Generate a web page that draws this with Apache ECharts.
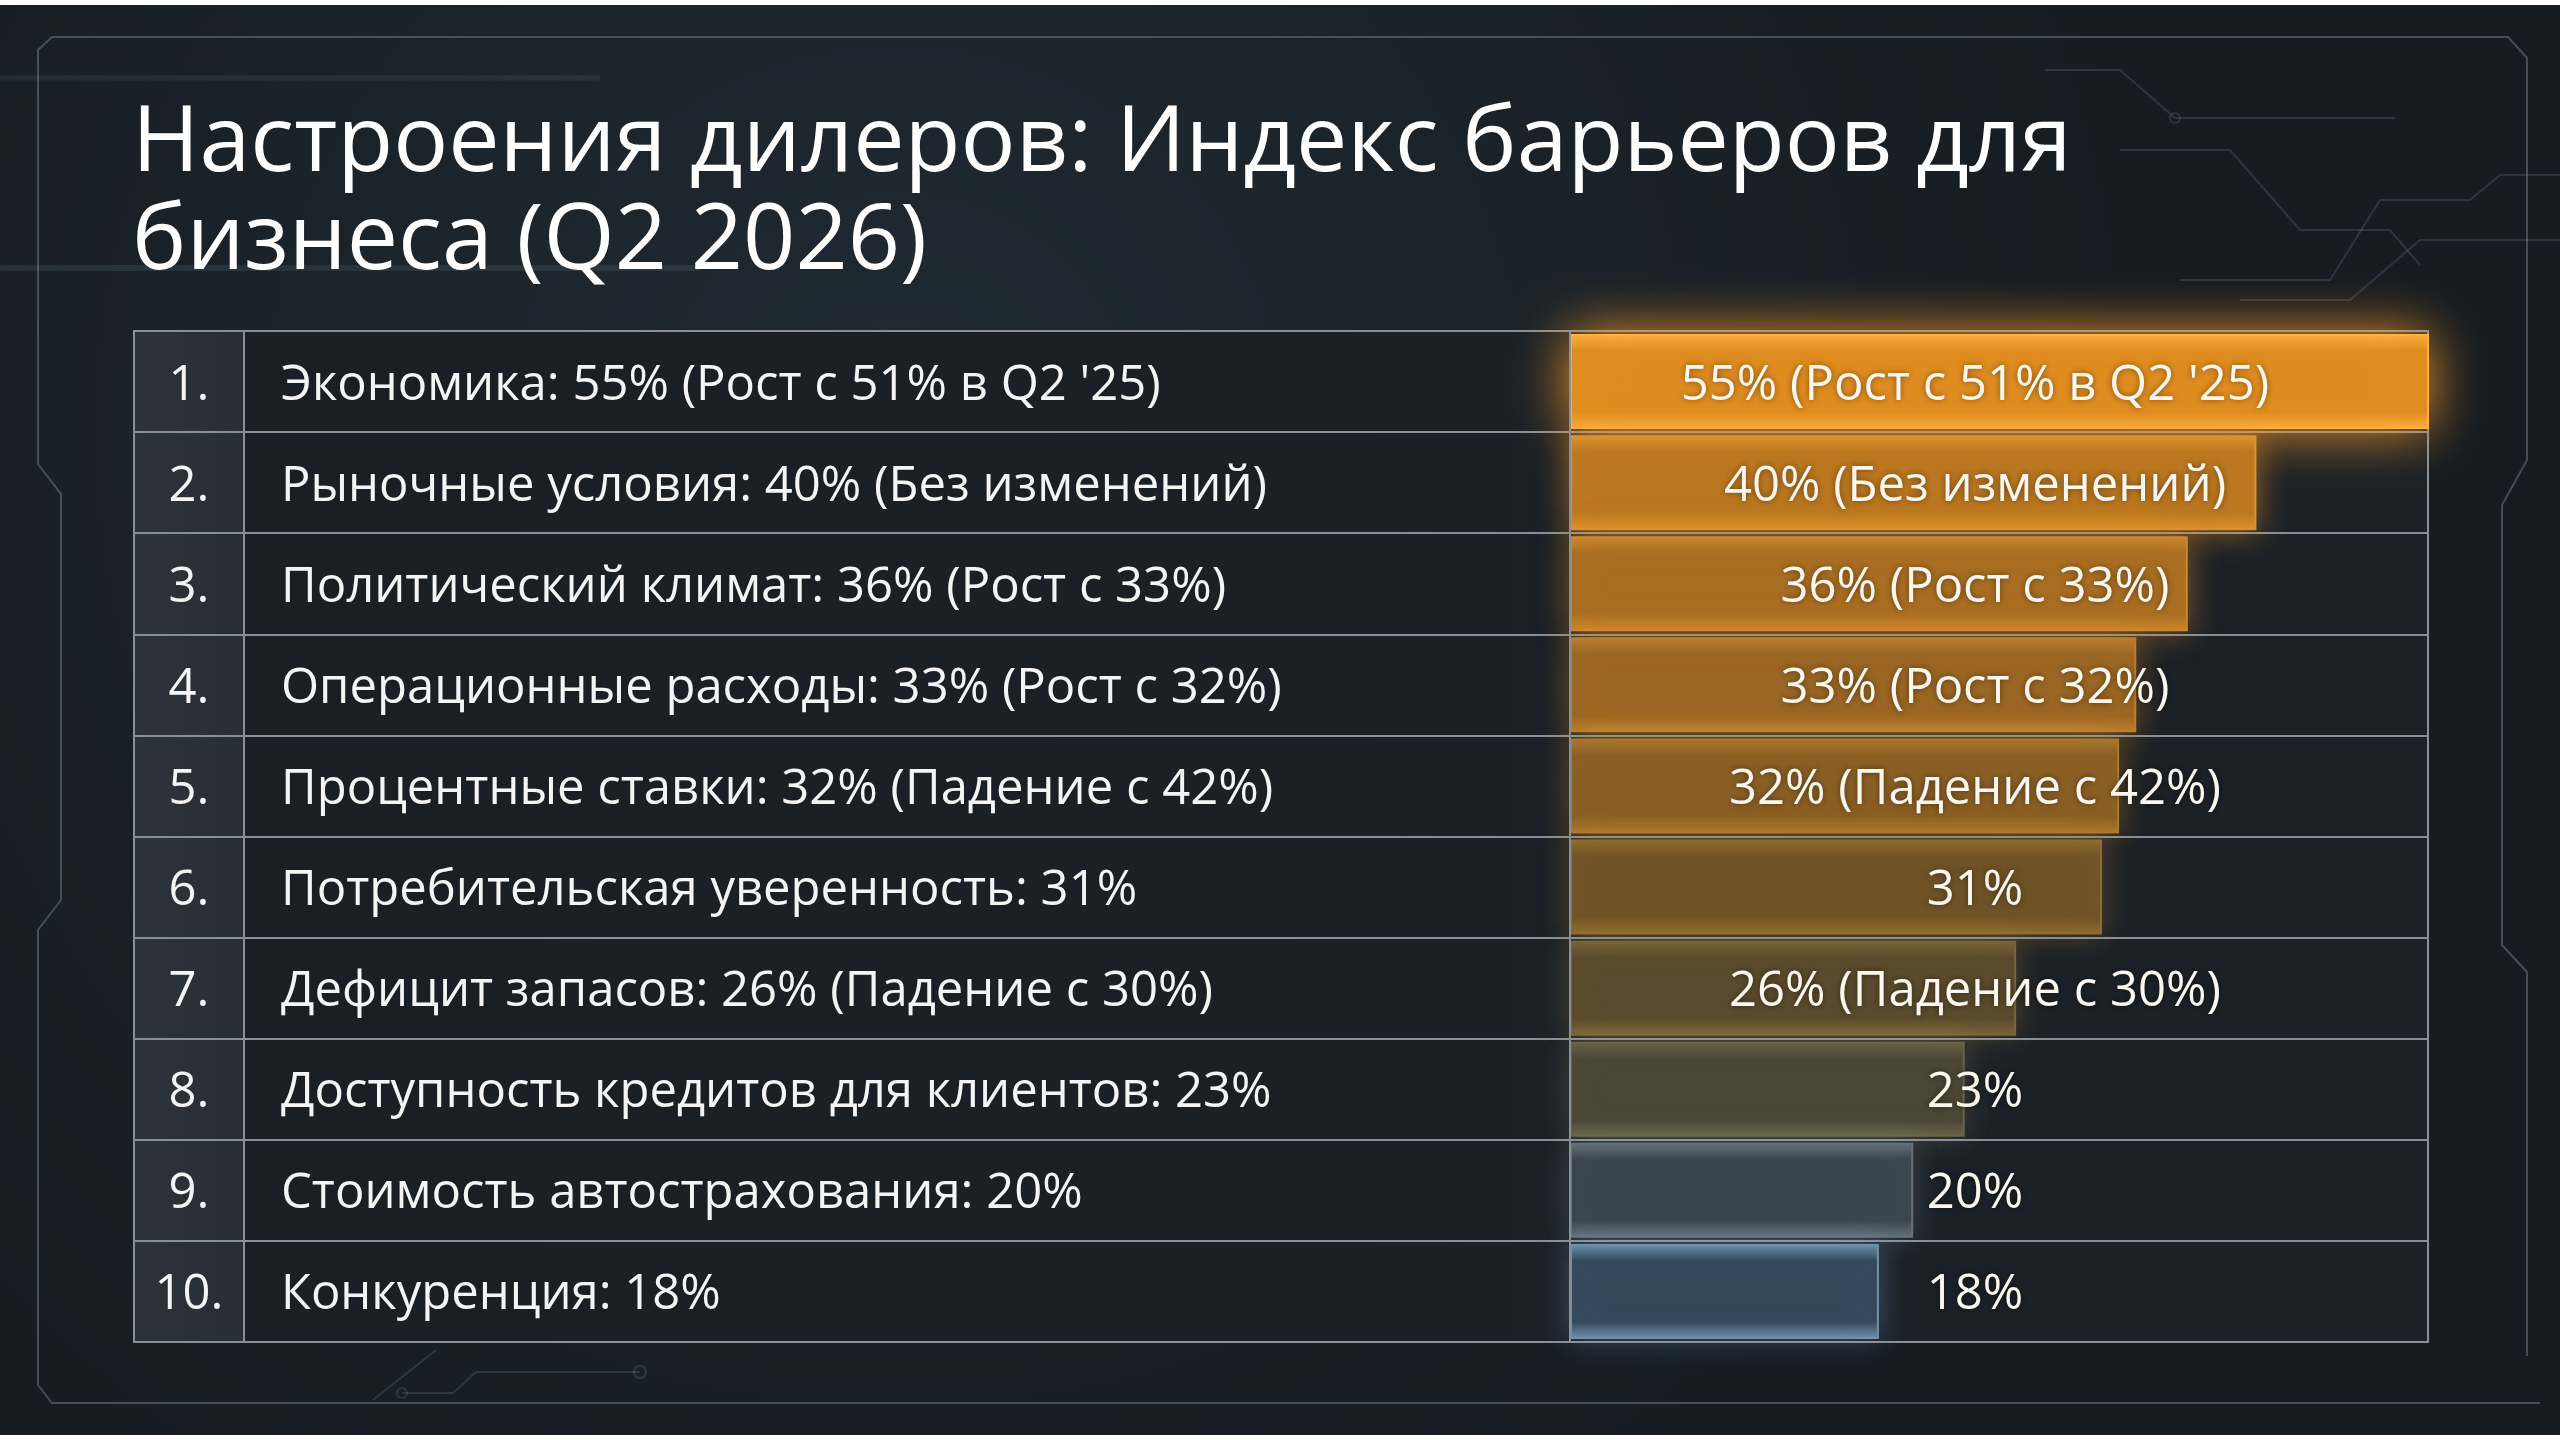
<!DOCTYPE html>
<html>
<head>
<meta charset="utf-8">
<title>Индекс барьеров</title>
<script src="https://cdn.jsdelivr.net/npm/echarts@6/dist/echarts.min.js"></script>
<style>
  html, body { margin: 0; padding: 0; background: #fff; }
  #main { width: 2560px; height: 1440px; }
</style>
</head>
<body>
<div id="main"></div>
<script>
// данные
var names = ['Экономика', 'Рыночные условия', 'Политический климат', 'Операционные расходы',
  'Процентные ставки', 'Потребительская уверенность', 'Дефицит запасов',
  'Доступность кредитов для клиентов', 'Стоимость автострахования', 'Конкуренция'];
var values = [55, 40, 36, 33, 32, 31, 26, 23, 20, 18];
var notes = ["(Рост с 51% в Q2 '25)", '(Без изменений)', '(Рост с 33%)', '(Рост с 32%)',
  '(Падение с 42%)', '', '(Падение с 30%)', '', '', ''];

// цвета полос (сверху вниз: оранжевый -> серо-голубой)
var barBase = ['#df8d20', '#bb7720', '#a96e22', '#9a6623', '#8a5f24', '#6f5327', '#5a4a2d', '#4a4535', '#3b454d', '#34485a'];
var barEdge = ['#fbb040', '#dc932e', '#cb882e', '#bb7f2e', '#ab792e', '#8f6c30', '#7a6638', '#6a6448', '#66727a', '#7092ad'];
var barGlow = ['rgba(255,160,40,0.95)', 'rgba(240,150,40,0.6)', 'rgba(235,145,40,0.5)', 'rgba(230,140,40,0.45)',
  'rgba(220,140,40,0.4)', 'rgba(200,140,50,0.35)', 'rgba(190,150,70,0.3)', 'rgba(190,170,110,0.25)',
  'rgba(160,175,190,0.25)', 'rgba(130,170,210,0.35)'];

var FONT = '"Open Sans", "Noto Sans", sans-serif';
var LINE = '#86909a';

function rowText(i) {
  return names[i] + ': ' + values[i] + '%' + (notes[i] ? ' ' + notes[i] : '');
}
function barText(i) {
  return values[i] + '%' + (notes[i] ? ' ' + notes[i] : '');
}

var myChart = echarts.init(document.getElementById('main'));

var barData = values.map(function (v, i) {
  return {
    value: v,
    itemStyle: {
      color: new echarts.graphic.LinearGradient(0, 0, 0, 1, [
        {offset: 0, color: barEdge[i]},
        {offset: 0.18, color: barBase[i]},
        {offset: 0.82, color: barBase[i]},
        {offset: 1, color: barEdge[i]}
      ]),
      borderColor: barEdge[i],
      borderWidth: 2,
      shadowColor: barGlow[i],
      shadowBlur: i === 0 ? 55 : 32
    }
  };
});

// фон и декоративные линии рамки
var deco = {stroke: 'rgba(150,172,190,0.35)', lineWidth: 2, fill: null};
var decoFaint = {stroke: 'rgba(150,172,190,0.18)', lineWidth: 2, fill: null};
var graphics = [
  {type: 'rect', z: -100, shape: {x: 0, y: 5, width: 2560, height: 1430},
    style: {fill: new echarts.graphic.RadialGradient(0.35, 0.3, 0.9, [
      {offset: 0, color: '#202a32'},
      {offset: 1, color: '#151b21'}
    ])}},
  {type: 'polyline', z: -50, shape: {points: [[38, 1385], [38, 930], [61, 900], [61, 494], [38, 464], [38, 50], [52, 37], [2508, 37], [2527, 58], [2527, 460], [2502, 505], [2502, 945], [2527, 972], [2527, 1356]]}, style: deco},
  {type: 'polyline', z: -50, shape: {points: [[38, 1385], [52, 1403], [2540, 1403]]}, style: deco},
  {type: 'polyline', z: -50, shape: {points: [[2045, 70], [2120, 70], [2175, 118], [2395, 118]]}, style: decoFaint},
  {type: 'polyline', z: -50, shape: {points: [[2120, 150], [2230, 150], [2300, 230], [2390, 230], [2420, 265]]}, style: decoFaint},
  {type: 'polyline', z: -50, shape: {points: [[2180, 280], [2330, 280], [2380, 200], [2470, 200], [2500, 175], [2560, 175]]}, style: decoFaint},
  {type: 'polyline', z: -50, shape: {points: [[2240, 300], [2350, 300], [2420, 240], [2560, 240]]}, style: decoFaint},
  {type: 'polyline', z: -50, shape: {points: [[402, 1393], [453, 1393], [476, 1372], [640, 1372]]}, style: decoFaint},
  {type: 'line', z: -50, shape: {x1: 373, y1: 1400, x2: 436, y2: 1350}, style: decoFaint},
  {type: 'circle', z: -50, shape: {cx: 640, cy: 1372, r: 6}, style: decoFaint},
  {type: 'circle', z: -50, shape: {cx: 402, cy: 1393, r: 5}, style: decoFaint},
  {type: 'circle', z: -50, shape: {cx: 2175, cy: 118, r: 5}, style: decoFaint},
  {type: 'line', z: -50, shape: {x1: 0, y1: 268, x2: 700, y2: 268}, style: {stroke: 'rgba(150,172,190,0.12)', lineWidth: 6}},
  {type: 'line', z: -50, shape: {x1: 0, y1: 78, x2: 600, y2: 78}, style: {stroke: 'rgba(150,172,190,0.10)', lineWidth: 5}},
  // разделитель колонки номеров
  {type: 'line', z: 5, shape: {x1: 244, y1: 331, x2: 244, y2: 1342}, style: {stroke: LINE, lineWidth: 2}}
];

var option = {
  backgroundColor: '#ffffff',
  animation: false,
  title: {
    text: 'Настроения дилеров: Индекс барьеров для\nбизнеса (Q2 2026)',
    left: 127,
    top: 91,
    textStyle: {color: '#ffffff', fontSize: 91.5, lineHeight: 98, fontWeight: 'normal', fontFamily: FONT}
  },
  graphic: graphics,
  grid: [
    {left: 134, top: 331, right: 132, bottom: 98, show: true, borderColor: LINE, borderWidth: 2,
      backgroundColor: new echarts.graphic.LinearGradient(0, 0, 1, 0, [
        {offset: 0, color: '#2c333a'},
        {offset: 0.0475, color: '#272e35'},
        {offset: 0.048, color: '#1a1f25'},
        {offset: 1, color: '#1b2127'}
      ])},
    {left: 1570, top: 331, right: 132, bottom: 98}
  ],
  xAxis: [
    {type: 'value', gridIndex: 0, min: 0, max: 1, show: false},
    {type: 'value', gridIndex: 1, min: 0, max: 50, show: false}
  ],
  yAxis: [
    {
      type: 'category', gridIndex: 0, inverse: true, data: names,
      axisLine: {show: false}, axisTick: {show: false},
      splitLine: {show: true, lineStyle: {color: LINE, width: 2}},
      axisLabel: {
        interval: 0, align: 'left', margin: 0,
        formatter: function (v, i) { return '{n|' + (i + 1) + '.}{t|' + rowText(i) + '}'; },
        rich: {
          n: {width: 110, align: 'center', fontSize: 49, padding: [8, 0, 0, 0], color: '#f4f4f4', fontFamily: FONT},
          t: {padding: [8, 0, 0, 37], fontSize: 49, color: '#f4f4f4', fontFamily: FONT}
        }
      }
    },
    {
      type: 'category', gridIndex: 1, inverse: true, data: names, z: 10,
      axisLine: {show: true, lineStyle: {color: LINE, width: 2}}, axisTick: {show: false},
      splitLine: {show: false},
      axisLabel: {
        interval: 0, align: 'center', margin: -405,
        formatter: function (v, i) { return '{b|' + barText(i) + '}'; },
        rich: {
          b: {color: '#fbf6ee', fontSize: 49, fontFamily: FONT, padding: [8, 0, 0, 0],
            textShadowColor: 'rgba(0,0,0,0.45)', textShadowBlur: 6}
        }
      }
    }
  ],
  series: [{
    name: 'Барьеры',
    type: 'bar',
    xAxisIndex: 1,
    yAxisIndex: 1,
    barCategoryGap: '6%',
    clip: true,
    data: barData
  }]
};

myChart.setOption(option);
</script>
</body>
</html>
